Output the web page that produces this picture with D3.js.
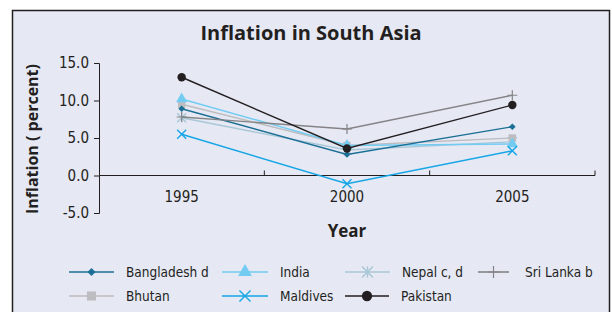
<!DOCTYPE html>
<html>
<head>
<meta charset="utf-8">
<script src="https://cdn.jsdelivr.net/npm/d3@7"></script>
<style>
  body { margin: 0; background: #fff; }
  svg { display: block; }
  .narrow { font-family: "Liberation Sans Narrow", "DejaVu Sans Condensed", "Liberation Sans", Arial, sans-serif; font-stretch: condensed; }
  .tick text { font-family: "Liberation Sans Narrow", "DejaVu Sans Condensed", "Liberation Sans", Arial, sans-serif; font-stretch: condensed; font-size: 15px; fill: #231f20; }
  .legend text { font-size: 13.5px; fill: #231f20; }
</style>
</head>
<body>
<div id="chart"></div>
<script>
// DATA
var years = ["1995", "2000", "2005"];
var seriesNames = ["Bangladesh d", "Bhutan", "India", "Maldives", "Nepal c, d", "Pakistan", "Sri Lanka b"];
var bangladesh = [8.9, 2.8, 6.5];
var bhutan = [9.5, 4.0, 5.0];
var india = [10.2, 4.0, 4.2];
var maldives = [5.5, -1.1, 3.3];
var nepal = [7.7, 3.4, 4.5];
var pakistan = [13.1, 3.6, 9.4];
var sriLanka = [7.8, 6.2, 10.7];
var yTicks = [-5, 0, 5, 10, 15];

// SET UP
var W = 612, H = 312;
var margin = {top: 63, left: 99, right: 17, bottom: 99};

var svg = d3.select("#chart").append("svg")
    .attr("width", W)
    .attr("height", H);

// panel background + border
svg.append("rect")
    .attr("x", 12.5).attr("y", 10.5)
    .attr("width", 597).attr("height", 310)
    .attr("fill", "#e6e8f4")
    .attr("stroke", "#231f20")
    .attr("stroke-width", 1.5);

// title
svg.append("text")
    .attr("x", 311).attr("y", 40)
    .attr("text-anchor", "middle")
    .style("font-family", "'Open Sans', 'Noto Sans', sans-serif")
    .style("font-weight", "bold")
    .style("font-size", "20px")
    .attr("fill", "#231f20")
    .text("Inflation in South Asia");

var g = svg.append("g")
    .attr("transform", "translate(" + margin.left + "," + margin.top + ")");

// Scales
var xScale = d3.scaleBand().domain(years).range([0, 496]);
var yScale = d3.scaleLinear().domain([-5, 15]).range([150, 0]);

// Y axis
var yAxis = g.append("g")
    .call(d3.axisLeft(yScale).tickValues(yTicks).tickSize(5)
      .tickFormat(d => d.toFixed(1)));
yAxis.select(".domain").attr("stroke", "#231f20");
yAxis.selectAll(".tick line").attr("stroke", "#231f20");
yAxis.selectAll(".tick text").attr("x", -10);

// X axis at zero, ticks between categories
var xAxis = g.append("g")
    .attr("transform", "translate(0," + yScale(0) + ")");
xAxis.append("line")
    .attr("x1", 0).attr("x2", 496)
    .attr("stroke", "#231f20");
xAxis.selectAll(".xt")
    .data(years)
    .join("line")
    .attr("class", "xt")
    .attr("x1", d => xScale(d) + xScale.bandwidth())
    .attr("x2", d => xScale(d) + xScale.bandwidth())
    .attr("y1", 0).attr("y2", -5)
    .attr("stroke", "#231f20");
xAxis.selectAll(".xl")
    .data(years)
    .join("text")
    .attr("class", "xl narrow")
    .attr("x", d => xScale(d) + xScale.bandwidth() / 2)
    .attr("y", 26)
    .attr("text-anchor", "middle")
    .style("font-size", "15px")
    .attr("fill", "#231f20")
    .text(d => d);

// axis titles
svg.append("text")
    .attr("x", 347).attr("y", 237)
    .attr("text-anchor", "middle")
    .style("font-family", "'Open Sans', 'Noto Sans', sans-serif")
    .style("font-weight", "bold")
    .style("font-size", "17px")
    .attr("fill", "#231f20")
    .text("Year");

svg.append("text")
    .attr("transform", "translate(38,139) rotate(-90)")
    .attr("text-anchor", "middle")
    .style("font-family", "'Open Sans', 'Noto Sans', sans-serif")
    .style("font-weight", "bold")
    .style("font-size", "16px")
    .attr("fill", "#231f20")
    .text("Inflation ( percent)");

// series
var series = [
  {name: seriesNames[0], values: bangladesh, color: "#1b6f95", marker: "diamond"},
  {name: seriesNames[1], values: bhutan, color: "#bdbdbf", marker: "square"},
  {name: seriesNames[2], values: india, color: "#72ccf2", marker: "triangle"},
  {name: seriesNames[3], values: maldives, color: "#14a6e6", marker: "x"},
  {name: seriesNames[4], values: nepal, color: "#a8c7d6", marker: "star"},
  {name: seriesNames[5], values: pakistan, color: "#231f20", marker: "circle"},
  {name: seriesNames[6], values: sriLanka, color: "#848486", marker: "plus"}
];

var drawOrder = [4, 1, 2, 0, 3, 6, 5];

function drawMarker(sel, type, color, x, y, s) {
  s = s || 1;
  var r;
  if (type === "diamond") {
    sel.append("path").attr("d", d3.symbol(d3.symbolSquare, 22 * s)())
      .attr("transform", "translate(" + x + "," + y + ") rotate(45)").attr("fill", color);
  } else if (type === "square") {
    sel.append("path").attr("d", d3.symbol(d3.symbolSquare, 55 * s)())
      .attr("transform", "translate(" + x + "," + y + ")").attr("fill", color);
  } else if (type === "triangle") {
    sel.append("path").attr("d", d3.symbol(d3.symbolTriangle, 55 * s)())
      .attr("transform", "translate(" + x + "," + y + ")").attr("fill", color);
  } else if (type === "circle") {
    sel.append("circle").attr("cx", x).attr("cy", y).attr("r", 4.2 * Math.sqrt(s)).attr("fill", color);
  } else if (type === "x") {
    r = 4.5 * Math.sqrt(s);
    sel.append("path").attr("d", "M" + (x - r) + "," + (y - r) + "L" + (x + r) + "," + (y + r) + "M" + (x - r) + "," + (y + r) + "L" + (x + r) + "," + (y - r))
      .attr("stroke", color).attr("stroke-width", 1.4).attr("fill", "none");
  } else if (type === "plus") {
    r = 5 * Math.sqrt(s);
    sel.append("path").attr("d", "M" + (x - r) + "," + y + "L" + (x + r) + "," + y + "M" + x + "," + (y - r) + "L" + x + "," + (y + r))
      .attr("stroke", color).attr("stroke-width", 1.2).attr("fill", "none");
  } else if (type === "star") {
    r = 4.5 * Math.sqrt(s);
    sel.append("path").attr("d", "M" + (x - r) + "," + (y - r) + "L" + (x + r) + "," + (y + r) + "M" + (x - r) + "," + (y + r) + "L" + (x + r) + "," + (y - r) + "M" + x + "," + (y - r) + "L" + x + "," + (y + r))
      .attr("stroke", color).attr("stroke-width", 1.4).attr("fill", "none");
  }
}

var line = d3.line()
    .x((d, i) => xScale(years[i]) + xScale.bandwidth() / 2)
    .y(d => yScale(d));

drawOrder.forEach(function(k) {
  var s = series[k];
  var sg = g.append("g");
  sg.append("path")
    .datum(s.values)
    .attr("d", line)
    .attr("fill", "none")
    .attr("stroke", s.color)
    .attr("stroke-width", 1.4);
  s.values.forEach(function(v, i) {
    drawMarker(sg, s.marker, s.color, xScale(years[i]) + xScale.bandwidth() / 2, yScale(v));
  });
});

// LEGEND
var legendPos = [
  {k: 0, x: 69, y: 272, len: 45},
  {k: 2, x: 222, y: 272, len: 46},
  {k: 4, x: 345, y: 272, len: 45},
  {k: 6, x: 478, y: 272, len: 31},
  {k: 1, x: 69, y: 296, len: 45},
  {k: 3, x: 222, y: 296, len: 46},
  {k: 5, x: 345, y: 296, len: 44}
];
var legend = svg.append("g").attr("class", "legend narrow");
legendPos.forEach(function(p) {
  var s = series[p.k];
  legend.append("line")
    .attr("x1", p.x).attr("x2", p.x + p.len)
    .attr("y1", p.y).attr("y2", p.y)
    .attr("stroke", s.color).attr("stroke-width", 1.6);
  drawMarker(legend, s.marker, s.color, p.x + p.len / 2, p.y, 1.5);
  legend.append("text")
    .attr("x", p.x + p.len + (p.k === 6 ? 16 : 12))
    .attr("y", p.y + 5)
    .text(s.name);
});
</script>
</body>
</html>
